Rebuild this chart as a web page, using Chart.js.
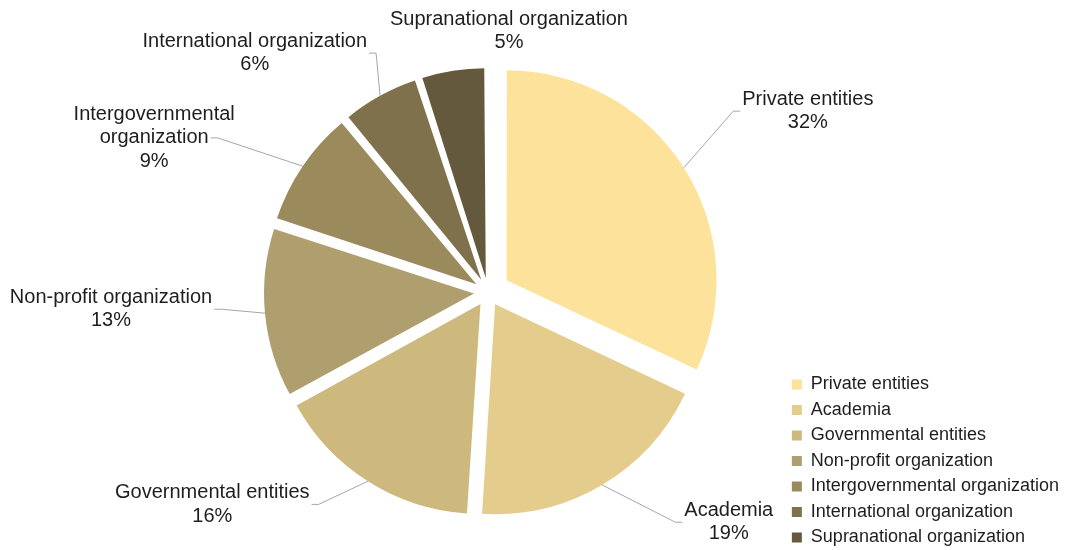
<!DOCTYPE html>
<html>
<head>
<meta charset="utf-8">
<script src="https://cdn.jsdelivr.net/npm/chart.js@4"></script>
<style>
  html, body { margin: 0; padding: 0; background: #fff; }
  #wrap { width: 1069px; height: 550px; }
</style>
</head>
<body>
<div id="wrap"><canvas id="share_pie"></canvas></div>
<script>
// pie.js

const CATEGORIES = [
  'Private entities',
  'Academia',
  'Governmental entities',
  'Non-profit organization',
  'Intergovernmental organization',
  'International organization',
  'Supranational organization'
];
const SHARES = [ 32, 19, 16, 13, 9, 6, 5 ];

const SLICE_COLORS = [ '#fde29b', '#e4cd8c', '#cdb97e', '#b09f6e', '#9a8a5c', '#80714d', '#65593d' ];
// pull-out per slice; chart.js moves the arc by offset / 4
const SLICE_PULL = [ 88, 56, 56, 56, 56, 56, 56 ];

// label block centre: angle from 12 o'clock (deg), distance in pie radii
const LABEL_SPOTS = [
  { angle: 60.5, dist: 1.75 },
  { angle: 133.7, dist: 1.586 },
  { angle: 232.4, dist: 1.657 },
  { angle: 267.4, dist: 1.797 },
  { angle: 294.8, dist: 1.751, wrap: 240 },
  { angle: 315.7, dist: 1.59 },
  { angle: 4.6, dist: 1.247 }
];

const FONT_FAMILY = "'Liberation Sans', Arial, sans-serif";
const TEXT_COLOR = '#1e1e1e';
const LINE_H = 23.5;

function wrap_words( ctx, text, max_width ) {
  if ( !max_width ) return [ text ];
  const lines = [];
  let line = '';
  text.split( ' ' ).forEach( w => {
    const test = line ? line + ' ' + w : w;
    if ( line && ctx.measureText( test ).width > max_width ) {
      lines.push( line );
      line = w;
    } else {
      line = test;
    }
  } );
  lines.push( line );
  return lines;
}

// offset also grows the radius of narrow arcs, keep them all on one radius
const pull_fix = {
  id: 'pull_fix',
  beforeDatasetDraw( chart, args ) {
    const radius = args.meta.controller.outerRadius;
    args.meta.data.forEach( arc => {
      const grow = ( arc.options.offset / 4 ) * ( 1 - Math.sin( Math.min( Math.PI, arc.circumference ) ) );
      arc.outerRadius = radius - grow;
    } );
  }
};

// category + percent outside each slice, with a thin leader line
const outer_labels = {
  id: 'outer_labels',
  afterDatasetsDraw( chart, args, opts ) {
    const ctx = chart.ctx;
    const meta = chart.getDatasetMeta( 0 );
    const radius = meta.controller.outerRadius;
    const total = SHARES.reduce( ( a, b ) => a + b, 0 );

    ctx.save();
    ctx.font = '20px ' + FONT_FAMILY;
    ctx.textBaseline = 'middle';
    ctx.textAlign = 'center';

    meta.data.forEach( ( arc, i ) => {
      const spot = opts.spots[ i ];
      const mid = ( arc.startAngle + arc.endAngle ) / 2;
      const shift = arc.options.offset / 4;
      const edge_x = arc.x + Math.cos( mid ) * ( radius + shift );
      const edge_y = arc.y + Math.sin( mid ) * ( radius + shift );

      const a = spot.angle * Math.PI / 180;
      const bx = arc.x + Math.sin( a ) * spot.dist * radius;
      const by = arc.y - Math.cos( a ) * spot.dist * radius;

      const lines = wrap_words( ctx, chart.data.labels[ i ], spot.wrap );
      lines.push( Math.round( SHARES[ i ] / total * 100 ) + '%' );
      const widths = lines.map( l => ctx.measureText( l ).width );
      const half_w = Math.max( ...widths ) / 2;
      const top = by - ( lines.length - 1 ) * LINE_H / 2;

      ctx.fillStyle = TEXT_COLOR;
      lines.forEach( ( l, k ) => ctx.fillText( l, bx, top + k * LINE_H ) );

      // label sits straight above/below the slice: no line needed
      if ( edge_x > bx - half_w && edge_x < bx + half_w ) return;

      const k = Math.floor( ( lines.length - 1 ) / 2 );
      const on_right = bx > edge_x;
      const ax = on_right ? bx - widths[ k ] / 2 - 2 : bx + widths[ k ] / 2 + 2;
      const stub = on_right ? ax - 7 : ax + 7;

      ctx.strokeStyle = '#a6a6a6';
      ctx.lineWidth = 1;
      ctx.beginPath();
      ctx.moveTo( edge_x, edge_y );
      ctx.lineTo( stub, by );
      ctx.lineTo( ax, by );
      ctx.stroke();
    } );
    ctx.restore();
  }
};

function create_chart( chart_id ) {
  const ctx = document.getElementById( chart_id ).getContext( '2d' );
  return new Chart( ctx, {
    type: 'pie',
    data: {
      labels: CATEGORIES,
      datasets: [ {
        data: SHARES,
        backgroundColor: SLICE_COLORS,
        offset: SLICE_PULL,
        borderWidth: 0
      } ]
    },
    options: {
      responsive: true,
      maintainAspectRatio: false,
      animation: false,
      radius: 210,
      layout: {
        padding: { left: 191.6, right: 0, top: 34.2, bottom: -3.9 }
      },
      plugins: {
        legend: {
          position: 'right',
          align: 'end',
          labels: {
            boxWidth: 10,
            boxHeight: 10,
            padding: 7.5,
            color: TEXT_COLOR,
            font: { family: FONT_FAMILY, size: 18 }
          }
        },
        tooltip: { enabled: false },
        outer_labels: { spots: LABEL_SPOTS }
      }
    },
    plugins: [ pull_fix, outer_labels ]
  } );
}

document.addEventListener( 'DOMContentLoaded', function () {
  create_chart( 'share_pie' );
} );
</script>
</body>
</html>
